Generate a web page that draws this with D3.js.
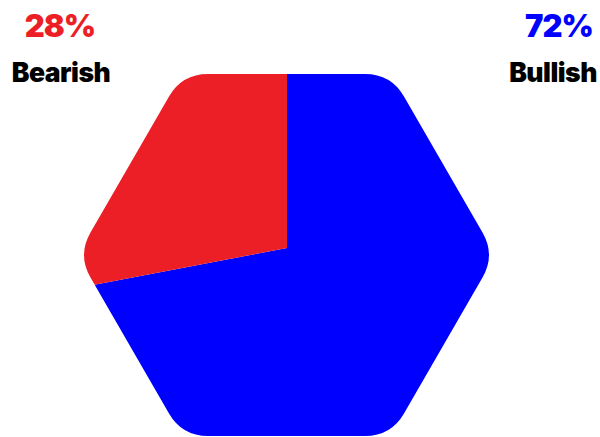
<!DOCTYPE html>
<html>
<head>
<meta charset="utf-8">
<script src="https://d3js.org/d3.v7.min.js"></script>
<style>
  body { margin: 0; background: #fff; }
  text { font-family: Inter, Lato, "Open Sans", sans-serif; font-weight: 900; }
</style>
</head>
<body>
<script>
  var categories = ["Bullish", "Bearish"];
  var values = [72, 28];
  var colors = ["#0000ff", "#ed1f26"];

  var width = 600, height = 437;

  var svg = d3.select("body")
      .append("svg")
      .attr("width", width)
      .attr("height", height);

  // rounded hexagon used as clip
  var hx = 286.5, hy = 255, R = 209, cr = 45;
  var pts = d3.range(6).map(function(i) {
    var a = Math.PI / 3 * i;
    return [hx + R * Math.cos(a), hy + R * Math.sin(a)];
  });
  var t = cr / Math.tan(Math.PI / 3);
  var hexPath = d3.path();
  pts.forEach(function(p, i) {
    var prev = pts[(i + 5) % 6], next = pts[(i + 1) % 6];
    var d1 = Math.hypot(prev[0] - p[0], prev[1] - p[1]);
    var d2 = Math.hypot(next[0] - p[0], next[1] - p[1]);
    var a = [p[0] + (prev[0] - p[0]) * t / d1, p[1] + (prev[1] - p[1]) * t / d1];
    var b = [p[0] + (next[0] - p[0]) * t / d2, p[1] + (next[1] - p[1]) * t / d2];
    if (i === 0) hexPath.moveTo(a[0], a[1]); else hexPath.lineTo(a[0], a[1]);
    hexPath.quadraticCurveTo(p[0], p[1], b[0], b[1]);
  });
  hexPath.closePath();

  svg.append("defs").append("clipPath")
      .attr("id", "hex")
      .append("path")
      .attr("d", hexPath.toString());

  var pie = d3.pie().sort(null);
  var arc = d3.arc().innerRadius(0).outerRadius(320);

  svg.append("g")
      .attr("clip-path", "url(#hex)")
      .append("g")
      .attr("transform", "translate(287,248)")
      .selectAll("path")
      .data(pie(values))
      .enter()
      .append("path")
      .attr("d", arc)
      .attr("fill", function(d, i) { return colors[i]; });

  // labels
  var pctX = [559, 60];
  var nameX = [553, 61];
  var fmt = function(v) { return v + "%"; };

  svg.selectAll(".pct")
      .data(values)
      .enter()
      .append("text")
      .attr("class", "pct")
      .attr("x", function(d, i) { return pctX[i]; })
      .attr("y", 37)
      .attr("text-anchor", "middle")
      .attr("font-size", 31)
      .attr("letter-spacing", -1)
      .attr("fill", function(d, i) { return colors[i]; })
      .text(fmt);

  svg.selectAll(".name")
      .data(categories)
      .enter()
      .append("text")
      .attr("class", "name")
      .attr("x", function(d, i) { return nameX[i]; })
      .attr("y", 82)
      .attr("text-anchor", "middle")
      .attr("font-size", 26.5)
      .attr("letter-spacing", -0.5)
      .attr("fill", "#000")
      .text(function(d) { return d; });
</script>
</body>
</html>
